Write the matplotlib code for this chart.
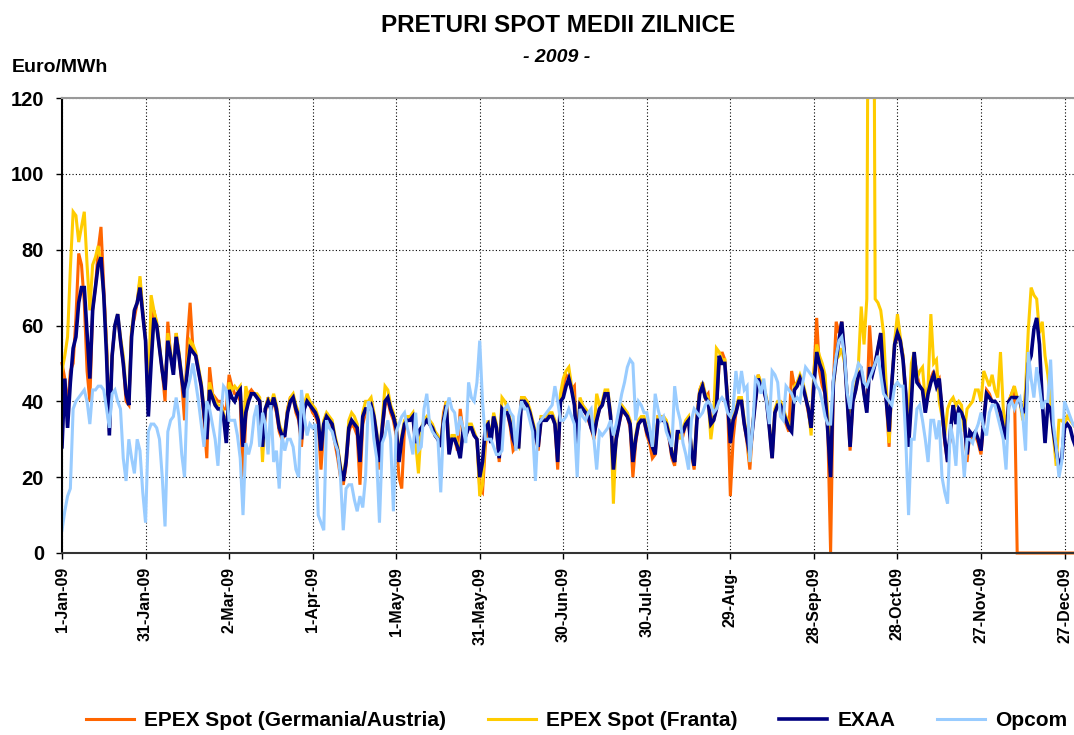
import numpy as np
import matplotlib
matplotlib.use("Agg")
import matplotlib.pyplot as plt

plt.rcParams['font.family'] = ['Liberation Sans', 'DejaVu Sans']

tick_labels = ["1-Jan-09", "31-Jan-09", "2-Mar-09", "1-Apr-09", "1-May-09", "31-May-09",
               "30-Jun-09", "30-Jul-09", "29-Aug-", "28-Sep-09", "28-Oct-09", "27-Nov-09",
               "27-Dec-09"]
series_names = ["EPEX Spot (Germania/Austria)", "EPEX Spot (Franta)", "EXAA", "Opcom"]

# daily average prices 2009, Euro/MWh (one line per month)
epex_de = [
    50, 46, 38, 48, 50, 62, 79, 76, 66, 48, 40, 64, 70, 80, 86, 70, 55, 32, 52, 60, 62, 56, 50, 40, 39, 59, 62, 66, 72, 63, 56,
    38, 56, 64, 60, 54, 48, 40, 61, 52, 48, 58, 52, 45, 35, 56, 66, 54, 52, 48, 44, 35, 25, 49, 42, 41, 40, 40, 38,
    38, 47, 44, 42, 42, 40, 18, 36, 42, 43, 42, 41, 40, 27, 37, 41, 38, 40, 37, 32, 30, 31, 38, 41, 41, 37, 35, 28, 38, 41, 39,
    37, 36, 34, 22, 33, 37, 35, 33, 29, 25, 20, 18, 23, 32, 34, 33, 31, 18, 34, 37, 38, 38, 35, 30, 22, 32, 39, 40, 37, 35,
    31, 20, 17, 33, 35, 35, 36, 29, 32, 33, 34, 35, 34, 33, 31, 30, 28, 37, 40, 27, 30, 30, 27, 38, 32, 31, 33, 33, 31, 30, 17,
    16, 28, 34, 30, 36, 33, 24, 38, 37, 37, 33, 27, 28, 29, 41, 41, 40, 37, 34, 31, 27, 35, 35, 36, 36, 36, 34, 22, 41, 44,
    47, 46, 43, 44, 27, 40, 38, 37, 35, 33, 30, 35, 38, 39, 42, 42, 35, 22, 30, 34, 37, 37, 36, 33, 20, 29, 34, 35, 35, 31, 29,
    25, 26, 36, 36, 36, 34, 30, 25, 23, 32, 32, 31, 34, 35, 26, 22, 36, 43, 45, 41, 42, 35, 35, 38, 50, 53, 51, 40, 15, 30, 37,
    40, 40, 34, 29, 22, 33, 40, 47, 44, 43, 40, 33, 25, 37, 39, 39, 36, 34, 32, 48, 44, 45, 46, 44, 41, 37, 33, 47, 62, 48,
    44, 42, 32, 0, 45, 61, 58, 61, 52, 40, 27, 40, 43, 47, 48, 42, 38, 60, 48, 50, 54, 58, 46, 40, 28, 45, 55, 57, 56, 52, 42,
    29, 42, 52, 47, 44, 43, 38, 43, 46, 48, 45, 46, 38, 29, 24, 31, 39, 35, 38, 37, 35, 24, 32, 30, 31, 29, 26, 35, 43, 42,
    40, 40, 38, 36, 33, 30, 40, 42, 44, 0, 0, 0, 0, 0, 0, 0, 0, 0, 0, 0, 0, 0, 0, 0, 0, 0, 0, 0, 0, 0, 0,
]

epex_fr = [
    48, 52, 57, 75, 90, 89, 82, 86, 90, 76, 64, 76, 78, 81, 76, 68, 55, 33, 52, 60, 63, 57, 52, 43, 40, 59, 64, 66, 73, 64, 57,
    40, 68, 64, 61, 55, 48, 43, 58, 53, 48, 58, 53, 47, 41, 50, 56, 55, 53, 49, 45, 38, 32, 45, 42, 40, 39, 39, 37,
    31, 45, 43, 44, 43, 44, 30, 44, 41, 42, 42, 42, 41, 24, 38, 41, 39, 42, 39, 34, 32, 32, 38, 41, 42, 39, 37, 31, 39, 42, 40,
    39, 38, 36, 28, 35, 37, 36, 35, 31, 28, 23, 20, 25, 35, 37, 36, 34, 25, 37, 40, 40, 41, 37, 32, 25, 35, 44, 43, 39, 37,
    34, 25, 31, 35, 36, 36, 37, 29, 21, 33, 35, 36, 35, 34, 32, 31, 29, 36, 40, 27, 31, 31, 29, 26, 33, 32, 34, 34, 32, 30, 15,
    18, 31, 35, 30, 37, 34, 26, 41, 40, 38, 35, 31, 29, 28, 41, 41, 40, 38, 35, 32, 29, 36, 36, 36, 37, 37, 35, 25, 42, 46,
    48, 49, 44, 40, 29, 41, 39, 38, 37, 34, 32, 42, 39, 40, 43, 43, 37, 13, 31, 35, 39, 38, 37, 35, 25, 31, 35, 36, 36, 33, 31,
    29, 27, 36, 36, 36, 35, 32, 27, 25, 32, 30, 33, 35, 36, 28, 24, 36, 43, 45, 42, 41, 30, 36, 54, 53, 51, 51, 41, 30, 36, 38,
    41, 41, 35, 31, 24, 34, 41, 47, 45, 44, 41, 34, 26, 38, 40, 40, 38, 36, 34, 33, 44, 45, 47, 45, 42, 38, 31, 48, 55, 52,
    50, 47, 36, 30, 44, 51, 52, 54, 50, 42, 37, 41, 44, 50, 65, 55, 67, 250, 260, 67, 66, 64, 58, 44, 29, 45, 56, 63, 57, 52, 38,
    35, 50, 53, 46, 48, 49, 40, 44, 63, 50, 51, 40, 36, 31, 38, 40, 41, 39, 40, 39, 32, 38, 39, 40, 43, 43, 40, 48, 46, 44,
    47, 43, 41, 53, 38, 33, 40, 42, 44, 41, 40, 35, 43, 59, 70, 68, 67, 58, 61, 52, 47, 40, 31, 23, 35, 35, 34, 36, 35, 34, 33,
]

exaa = [
    28, 46, 33, 45, 54, 57, 66, 70, 70, 58, 46, 64, 70, 76, 78, 68, 52, 31, 52, 60, 63, 56, 50, 42, 39, 57, 64, 66, 70, 63, 56,
    36, 50, 62, 60, 54, 48, 43, 56, 52, 47, 57, 52, 46, 41, 48, 54, 53, 52, 48, 44, 37, 30, 43, 41, 39, 38, 38, 36,
    29, 43, 41, 40, 42, 43, 28, 37, 40, 42, 42, 41, 40, 28, 38, 40, 38, 41, 38, 33, 31, 31, 37, 40, 41, 38, 36, 30, 38, 40, 39,
    38, 37, 35, 27, 34, 36, 35, 34, 30, 27, 22, 19, 24, 33, 35, 34, 33, 24, 36, 38, 38, 39, 36, 31, 24, 33, 40, 41, 38, 36,
    33, 24, 30, 34, 35, 35, 36, 29, 32, 33, 34, 35, 34, 33, 31, 30, 28, 35, 39, 26, 30, 30, 28, 25, 32, 31, 33, 33, 31, 30, 20,
    24, 33, 34, 29, 36, 33, 25, 38, 37, 37, 34, 30, 28, 28, 40, 40, 39, 37, 34, 31, 28, 35, 35, 35, 36, 36, 34, 24, 40, 41,
    44, 46, 43, 39, 28, 39, 38, 37, 36, 33, 31, 35, 38, 39, 42, 42, 36, 22, 30, 34, 38, 37, 36, 34, 24, 30, 34, 35, 35, 32, 30,
    28, 26, 35, 35, 35, 34, 31, 26, 24, 32, 32, 32, 34, 35, 27, 23, 35, 42, 44, 41, 40, 34, 35, 38, 52, 50, 50, 40, 29, 35, 37,
    40, 40, 34, 30, 26, 33, 40, 46, 44, 43, 40, 33, 25, 37, 39, 39, 37, 35, 33, 32, 43, 44, 46, 44, 41, 38, 33, 44, 53, 50,
    48, 42, 32, 20, 45, 51, 56, 61, 52, 40, 28, 40, 43, 47, 48, 42, 37, 49, 47, 50, 54, 58, 46, 40, 32, 45, 55, 58, 56, 51, 42,
    28, 40, 53, 45, 44, 43, 37, 42, 45, 47, 44, 46, 38, 30, 24, 32, 39, 34, 38, 37, 35, 26, 32, 31, 32, 30, 27, 35, 42, 41,
    40, 40, 39, 37, 33, 30, 40, 41, 41, 41, 40, 37, 38, 50, 52, 59, 62, 55, 40, 29, 39, 38, 32, 27, 23, 25, 33, 34, 33, 30, 28,
]

opcom = [
    6, 11, 15, 17, 38, 40, 41, 42, 43, 40, 34, 43, 43, 44, 44, 43, 38, 33, 42, 43, 40, 38, 25, 19, 30, 25, 21, 30, 27, 16, 8,
    32, 34, 34, 33, 30, 20, 7, 32, 35, 36, 41, 36, 26, 20, 43, 46, 50, 45, 40, 34, 28, 40, 38, 34, 30, 23, 36, 44,
    43, 35, 35, 35, 31, 25, 10, 29, 26, 29, 36, 39, 28, 37, 34, 26, 39, 24, 27, 17, 31, 27, 30, 30, 28, 22, 20, 43, 36, 31, 34,
    33, 34, 10, 8, 6, 35, 33, 32, 29, 27, 20, 6, 17, 18, 18, 14, 11, 15, 12, 20, 40, 38, 30, 25, 8, 29, 31, 35, 30, 11,
    32, 34, 36, 37, 33, 30, 26, 37, 27, 28, 38, 42, 34, 32, 31, 30, 16, 34, 38, 41, 38, 37, 31, 36, 33, 29, 45, 41, 40, 45, 56,
    40, 30, 30, 30, 28, 26, 26, 27, 38, 39, 37, 36, 27, 36, 40, 38, 38, 35, 32, 19, 34, 35, 36, 37, 38, 39, 44, 40, 35, 35,
    36, 38, 36, 34, 20, 38, 36, 35, 37, 38, 30, 22, 32, 31, 32, 33, 35, 31, 34, 38, 42, 45, 49, 51, 50, 35, 40, 39, 37, 37, 33,
    28, 42, 38, 35, 36, 32, 30, 28, 44, 38, 35, 29, 26, 22, 35, 38, 37, 36, 37, 39, 40, 39, 37, 38, 40, 41, 40, 37, 36, 38, 48,
    42, 48, 43, 44, 24, 33, 46, 45, 42, 46, 40, 34, 48, 47, 45, 36, 35, 44, 43, 42, 40, 41, 40, 45, 49, 48, 47, 46, 44, 43,
    40, 36, 34, 34, 46, 52, 56, 57, 52, 42, 38, 45, 47, 50, 49, 45, 44, 46, 48, 50, 52, 47, 42, 41, 40, 39, 44, 45, 44, 44, 30,
    10, 30, 30, 38, 39, 35, 30, 24, 35, 35, 30, 35, 20, 16, 13, 34, 30, 23, 37, 30, 20, 30, 30, 29, 32, 34, 37, 33, 31, 37,
    39, 39, 36, 33, 30, 22, 39, 40, 38, 40, 41, 36, 27, 53, 46, 41, 49, 44, 38, 40, 40, 51, 34, 28, 20, 24, 40, 38, 36, 34, 33,
]

for s in (epex_de, epex_fr, exaa, opcom):
    assert len(s) == 365, len(s)

days = np.arange(365)
colors = ["#FF6600", "#FFCC00", "#000080", "#99CCFF"]

fig = plt.figure(figsize=(10.74, 7.35), dpi=100)
ax = fig.add_axes([62 / 1074, 182 / 735, 1012 / 1074, 455 / 735])

lines = []
for vals, name, col in zip((epex_de, epex_fr, exaa, opcom), series_names, colors):
    lw = 2.6 if col == "#000080" else 2.2
    ln, = ax.plot(days, vals, color=col, lw=lw, label=name, solid_joinstyle='miter')
    lines.append(ln)
lines[0].set_clip_on(False)

ax.set_xlim(0, 363.4)
ax.set_ylim(0, 120)
ax.set_yticks(np.arange(0, 121, 20))
ax.set_xticks(np.arange(0, 361, 30))
ax.set_xticklabels(tick_labels, rotation=90, fontsize=11.5, fontweight='bold', va='top')
for lab in ax.get_yticklabels():
    lab.set_fontweight('bold')
    lab.set_fontsize(14.5)
ax.tick_params(axis='both', direction='out', length=4, width=1, color='black')
ax.tick_params(axis='x', pad=6)
ax.tick_params(axis='y', pad=9)

ax.grid(True, color='black', linestyle=(0, (1, 2)), linewidth=0.8)
ax.set_axisbelow(True)
ax.spines['right'].set_visible(False)
ax.spines['top'].set_color('#999999')
ax.spines['top'].set_linewidth(1.5)
ax.spines['left'].set_linewidth(1.5)
ax.spines['bottom'].set_linewidth(1.5)
ax.spines['bottom'].set_color('#333333')

fig.text(558 / 1074, 1 - 25 / 735, "PRETURI SPOT MEDII ZILNICE", ha='center', va='center',
         fontsize=17.5, fontweight='bold')
fig.text(557 / 1074, 1 - 58 / 735, "- 2009 -", ha='center', va='center',
         fontsize=14, fontweight='bold', fontstyle='italic')
fig.text(12 / 1074, 1 - 67 / 735, "Euro/MWh", ha='left', va='center',
         fontsize=14, fontweight='bold')

fig.legend(handles=lines, loc='center', bbox_to_anchor=(0.537, 14 / 735), ncol=4,
           frameon=False, prop={'weight': 'bold', 'size': 15}, handlelength=2.3,
           handletextpad=0.5, columnspacing=2.0)

fig.savefig("out.png", dpi=100)
